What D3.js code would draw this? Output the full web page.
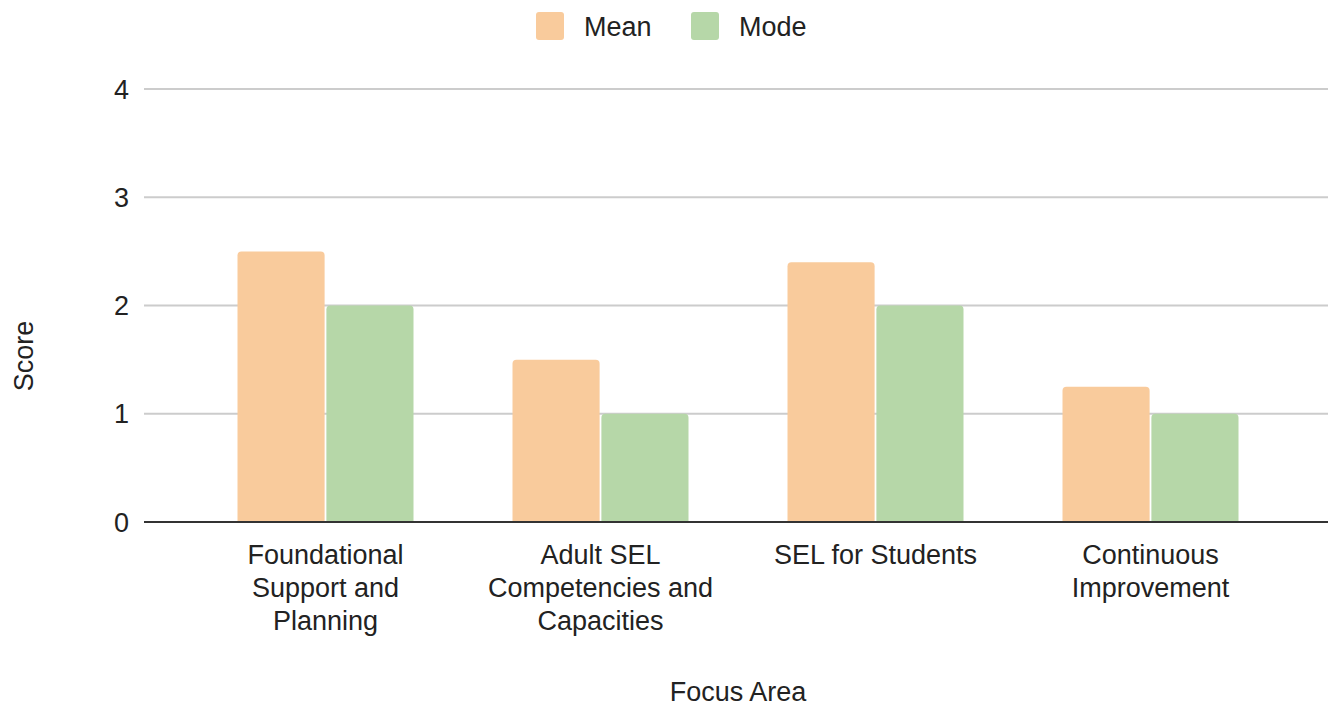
<!DOCTYPE html>
<html>
<head>
<meta charset="utf-8">
<script src="https://cdn.jsdelivr.net/npm/d3@7"></script>
<style>
  body { margin: 0; background: #fff; }
  text { font-family: "Liberation Sans", Arial, sans-serif; fill: #222; }
</style>
</head>
<body>
<div id="wrapper"></div>
<script>
// data
const categories = [
  "Foundational\nSupport and\nPlanning",
  "Adult SEL\nCompetencies and\nCapacities",
  "SEL for Students",
  "Continuous\nImprovement"
]
const seriesNames = ["Mean", "Mode"]
const meanValues = [2.5, 1.5, 2.4, 1.25]
const modeValues = [2, 1, 2, 1]
const yTicks = [0, 1, 2, 3, 4]
const colors = ["#f9cb9c", "#b6d7a8"]

const width = 1328
const height = 708
const fontSize = "27px"

// plot area
const gridLeft = 144
const gridRight = 1328
const yTop = 89
const yBottom = 522

const svg = d3.select("#wrapper").append("svg")
  .attr("width", width)
  .attr("height", height)

const x = d3.scaleBand()
  .domain(categories)
  .range([188, 1288])
  .paddingInner(0.36)
  .paddingOuter(0.18)

const xSub = d3.scaleBand()
  .domain(seriesNames)
  .range([0, x.bandwidth()])
  .paddingInner(0.02)

const y = d3.scaleLinear()
  .domain([0, 4])
  .range([yBottom, yTop])

// gridlines
svg.append("g")
  .selectAll("line")
  .data(yTicks.filter(d => d > 0))
  .join("line")
  .attr("x1", gridLeft)
  .attr("x2", gridRight)
  .attr("y1", d => y(d))
  .attr("y2", d => y(d))
  .attr("stroke", "#cccccc")
  .attr("stroke-width", 2)

// y tick labels
svg.append("g")
  .selectAll("text")
  .data(yTicks)
  .join("text")
  .attr("x", 129)
  .attr("y", d => y(d))
  .attr("dy", "0.36em")
  .attr("text-anchor", "end")
  .style("font-size", fontSize)
  .text(d => d)

// bars with slightly rounded tops
const roundTop = function(x0, y0, w, h, r) {
  r = Math.min(r, h, w / 2)
  return `M${x0},${y0 + h}V${y0 + r}Q${x0},${y0} ${x0 + r},${y0}` +
    `H${x0 + w - r}Q${x0 + w},${y0} ${x0 + w},${y0 + r}V${y0 + h}Z`
}

const rows = categories.map((c, i) => ({
  category: c,
  values: [
    { name: "Mean", value: meanValues[i] },
    { name: "Mode", value: modeValues[i] }
  ]
}))

svg.append("g")
  .selectAll("g")
  .data(rows)
  .join("g")
  .attr("transform", d => `translate(${x(d.category)},0)`)
  .selectAll("path")
  .data(d => d.values)
  .join("path")
  .attr("d", d => roundTop(xSub(d.name), y(d.value), xSub.bandwidth(), y(0) - y(d.value), 4))
  .attr("fill", (d, i) => colors[i])

// zero line
svg.append("line")
  .attr("x1", gridLeft)
  .attr("x2", gridRight)
  .attr("y1", y(0))
  .attr("y2", y(0))
  .attr("stroke", "#333")
  .attr("stroke-width", 2)

// category labels
const catLabels = svg.append("g")
  .selectAll("text")
  .data(categories)
  .join("text")
  .attr("x", d => x(d) + x.bandwidth() / 2)
  .attr("y", 564)
  .attr("text-anchor", "middle")
  .style("font-size", fontSize)

catLabels.selectAll("tspan")
  .data(d => d.split("\n"))
  .join("tspan")
  .attr("x", function() { return d3.select(this.parentNode).attr("x") })
  .attr("dy", (d, i) => i === 0 ? 0 : 33)
  .text(d => d)

// axis titles
svg.append("text")
  .attr("x", x.range()[0] + (x.range()[1] - x.range()[0]) / 2)
  .attr("y", 701)
  .attr("text-anchor", "middle")
  .style("font-size", fontSize)
  .text("Focus Area")

svg.append("text")
  .attr("transform", "translate(33,356) rotate(-90)")
  .attr("text-anchor", "middle")
  .style("font-size", fontSize)
  .text("Score")

// legend
const legendX = [536, 691]
const legend = svg.append("g")
  .selectAll("g")
  .data(seriesNames)
  .join("g")
  .attr("transform", (d, i) => `translate(${legendX[i]},12)`)

legend.append("rect")
  .attr("width", 28)
  .attr("height", 28)
  .attr("rx", 3)
  .attr("fill", (d, i) => colors[i])

legend.append("text")
  .attr("x", 48)
  .attr("y", 24)
  .style("font-size", fontSize)
  .text(d => d)
</script>
</body>
</html>
